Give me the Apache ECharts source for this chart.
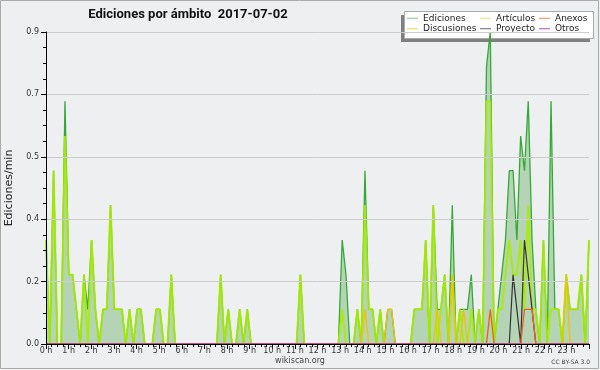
<!DOCTYPE html>
<html><head><meta charset="utf-8">
<script src="https://cdn.jsdelivr.net/npm/echarts@6/dist/echarts.min.js"></script>
<style>html,body{margin:0;padding:0;background:#eeeff1}#c{width:600px;height:370px}</style>
</head><body><div id="c"></div>
<script>
// 10-minute bins, 2017-07-02 (6 values per hour, 0 h .. 23 h)
const ediciones = [
 0.3,0,0.5,0,0,0.7,  0.2,0.2,0.1,0,0.2,0.1,  0.3,0.1,0,0.1,0.1,0.4,  0.1,0.1,0.1,0,0.1,0,
 0.1,0.1,0,0,0,0.1,  0.1,0,0,0.2,0,0,  0,0,0,0,0,0,  0,0,0,0,0.2,0,
 0.1,0,0,0.1,0,0.1,  0,0,0,0,0,0,  0,0,0,0,0,0,  0,0.2,0,0,0,0,
 0,0,0,0,0,0,  0.3,0.2,0,0,0.1,0,  0.5,0.1,0.1,0,0.1,0,  0.1,0.1,0,0,0,0,
 0,0.1,0.1,0.1,0.3,0,  0.4,0.1,0.1,0.2,0,0.4,  0,0.1,0.1,0.1,0.2,0,  0.1,0,0.8,0.9,0,0.1,
 0.2,0.3,0.5,0.5,0.3,0.6,  0.5,0.7,0.3,0.1,0,0.3,  0,0.7,0.1,0.1,0,0.2,  0.1,0.1,0.1,0.2,0,0.3
];
const articulos = [
 0.3,0,0.5,0,0,0.6,  0.2,0.2,0.1,0,0.2,0,  0.3,0.1,0,0.1,0.1,0.4,  0.1,0.1,0.1,0,0.1,0,
 0.1,0.1,0,0,0,0.1,  0.1,0,0,0.2,0,0,  0,0,0,0,0,0,  0,0,0,0,0.2,0,
 0.1,0,0,0.1,0,0.1,  0,0,0,0,0,0,  0,0,0,0,0,0,  0,0.2,0,0,0,0,
 0,0,0,0,0,0,  0.1,0,0,0,0.1,0,  0.4,0.1,0.1,0,0.1,0,  0,0,0,0,0,0,
 0,0.1,0.1,0.1,0.3,0,  0.4,0,0.1,0.2,0,0.2,  0,0.1,0,0,0.1,0,  0.1,0,0.7,0.7,0,0.1,
 0.1,0.2,0.3,0.2,0.2,0.3,  0.1,0.4,0.1,0.1,0,0.3,  0,0.1,0.1,0.1,0,0.2,  0.1,0.1,0.1,0.2,0,0.3
];
const discusiones = [
 0,0,0,0,0,0,  0,0,0,0,0,0,  0,0,0,0,0,0,  0,0,0,0,0,0,
 0,0,0,0,0,0,  0,0,0,0,0,0,  0,0,0,0,0,0,  0,0,0,0,0,0,
 0,0,0,0,0,0,  0,0,0,0,0,0,  0,0,0,0,0,0,  0,0,0,0,0,0,
 0,0,0,0,0,0,  0,0,0,0,0,0,  0.1,0,0,0,0,0,  0.1,0.1,0,0,0,0,
 0,0,0,0,0,0,  0,0.1,0,0,0,0.2,  0,0,0.1,0,0,0,  0,0,0,0,0,0,
 0,0,0,0,0,0,  0,0,0,0,0,0,  0,0,0,0,0,0.2,  0,0,0,0,0,0
];
const proyecto = [
 0,0,0,0,0,0,  0,0,0,0,0,0,  0,0,0,0,0,0,  0,0,0,0,0,0,
 0,0,0,0,0,0,  0,0,0,0,0,0,  0,0,0,0,0,0,  0,0,0,0,0,0,
 0,0,0,0,0,0,  0,0,0,0,0,0,  0,0,0,0,0,0,  0,0,0,0,0,0,
 0,0,0,0,0,0,  0,0,0,0,0,0,  0,0,0,0,0,0,  0,0,0,0,0,0,
 0,0,0,0,0,0,  0,0,0,0,0,0,  0,0,0,0,0,0,  0,0,0,0,0,0,
 0,0,0,0.2,0.1,0,  0.3,0.2,0.1,0,0,0,  0,0,0,0,0,0,  0,0,0,0,0,0
];
const anexos = [
 0,0,0,0,0,0,  0,0,0,0,0,0,  0,0,0,0,0,0,  0,0,0,0,0,0,
 0,0,0,0,0,0,  0,0,0,0,0,0,  0,0,0,0,0,0,  0,0,0,0,0,0,
 0,0,0,0,0,0,  0,0,0,0,0,0,  0,0,0,0,0,0,  0,0,0,0,0,0,
 0,0,0,0,0,0,  0,0,0,0,0,0,  0,0,0,0,0,0,  0,0,0,0,0,0,
 0,0,0,0,0,0,  0,0,0,0,0,0,  0,0,0,0,0,0,  0,0,0,0.1,0,0,
 0,0,0,0,0,0,  0.1,0.1,0.1,0,0,0,  0,0,0,0,0,0,  0,0,0,0,0,0
];
const otros = [
 0,0,0,0,0,0,  0,0,0,0,0,0,  0,0,0,0,0,0,  0,0,0,0,0,0,
 0,0,0,0,0,0,  0,0,0,0,0,0,  0,0,0,0,0,0,  0,0,0,0,0,0,
 0,0,0,0,0,0,  0,0,0,0,0,0,  0,0,0,0,0,0,  0,0,0,0,0,0,
 0,0,0,0,0,0,  0,0,0,0,0,0,  0,0,0,0,0,0,  0,0,0,0,0,0,
 0,0,0,0,0,0,  0,0,0,0,0,0,  0,0,0,0,0,0,  0,0,0,0,0,0,
 0,0,0,0,0,0,  0,0,0,0,0,0,  0,0,0,0,0,0,  0,0,0,0,0,0
];
const seriesNames = ['Ediciones','Discusiones','Artículos','Proyecto','Anexos','Otros'];
const hourLabelSuffix = ' h';
const titleText = 'Ediciones por ámbito  2017-07-02';
const yName = 'Ediciones/min';

const minutes = ediciones.map((_, i) => i * 10);
const pts = vals => vals.map((v, i) => [minutes[i], v]);
const FONT = 'DejaVu Sans';

const chart = echarts.init(document.getElementById('c'), null, {renderer: 'canvas'});

function line(name, vals, color, width, z, extra) {
  return Object.assign({
    name, type: 'line', xAxisIndex: 1, data: pts(vals), symbol: 'none', showSymbol: false,
    lineStyle: {color, width}, itemStyle: {color}, z, silent: true
  }, extra || {});
}

const legendBase = {
  orient: 'vertical', top: 13, itemGap: 0, itemWidth: 11, itemHeight: 1, icon: 'rect', padding: 0,
  selectedMode: false, textStyle: {fontFamily: FONT, fontSize: 9, color: '#222', lineHeight: 10.5}
};

chart.setOption({
  animation: false,
  backgroundColor: '#eeeff1',
  grid: {left: 46, right: 11, top: 32, bottom: 26},
  xAxis: [
    {type: 'value', min: 0, max: 24, interval: 1, z: 10,
     axisLine: {lineStyle: {color: '#000', width: 1}},
     axisTick: {length: 5, lineStyle: {color: '#000'}},
     minorTick: {show: true, splitNumber: 4, length: 3, lineStyle: {color: '#000'}},
     splitLine: {show: false},
     axisLabel: {formatter: v => v === 24 ? '' : v + hourLabelSuffix, fontFamily: FONT, fontSize: 8, color: '#333', margin: 3}},
    {type: 'value', min: 0, max: 1430, show: false}
  ],
  yAxis: {
    type: 'value', min: 0, max: 0.9, interval: 0.18, z: 10,
    axisLine: {show: true, lineStyle: {color: '#000', width: 1}},
    axisTick: {show: true, length: 5, lineStyle: {color: '#000'}},
    minorTick: {show: true, splitNumber: 4, length: 3, lineStyle: {color: '#000'}},
    splitLine: {lineStyle: {color: '#cdcdcd'}},
    axisLabel: {formatter: v => v.toFixed(1), fontFamily: FONT, fontSize: 8, color: '#333', margin: 7}
  },
  legend: [
    Object.assign({}, legendBase, {left: 407, data: [
      {name: 'Ediciones', itemStyle: {color: '#80cc80'}},
      {name: 'Discusiones', itemStyle: {color: '#f8d040'}}]}),
    Object.assign({}, legendBase, {left: 480, data: [
      {name: 'Artículos', itemStyle: {color: '#d4f06a'}},
      {name: 'Proyecto', itemStyle: {color: '#666666'}}]}),
    Object.assign({}, legendBase, {left: 539, data: [
      {name: 'Anexos', itemStyle: {color: '#f4804a'}},
      {name: 'Otros', itemStyle: {color: '#9a4ee8'}}]})
  ],
  series: [
    line(seriesNames[0], ediciones, '#35a935', 1.3, 2, {areaStyle: {color: 'rgba(58,155,54,0.45)', origin: 'start'}}),
    line(seriesNames[2], articulos, 'rgba(168,236,0,0.9)', 2, 3),
    line(seriesNames[1], discusiones, '#f2c200', 1.3, 4),
    line(seriesNames[3], proyecto, '#333333', 1.2, 5),
    line(seriesNames[4], anexos, '#f0601a', 1.3, 6),
    line(seriesNames[5], otros, '#9933ee', 1.2, 7)
  ],
  graphic: [
    {type: 'rect', silent: true, z: 0, shape: {x: 0.5, y: 0.5, width: 598, height: 368}, style: {fill: 'none', stroke: '#aaaaaa', lineWidth: 1}},
    {type: 'text', silent: true, x: 188, y: 15, style: {text: titleText, font: 'bold 13px Roboto', fill: '#111', textAlign: 'center', textVerticalAlign: 'middle'}},
    {type: 'text', silent: true, x: 9.5, y: 188, rotation: Math.PI / 2, style: {text: yName, font: '11px ' + FONT, fill: '#222', textAlign: 'center', textVerticalAlign: 'middle'}},
    {type: 'text', silent: true, x: 300, y: 361, style: {text: 'wikiscan.org', font: '8px ' + FONT, fill: '#444', textAlign: 'center', textVerticalAlign: 'middle'}},
    {type: 'text', silent: true, x: 590, y: 362, style: {text: 'CC BY-SA 3.0', font: '6px ' + FONT, fill: '#444', textAlign: 'right', textVerticalAlign: 'middle'}},
    {type: 'rect', silent: true, z: 1, shape: {x: 401, y: 15, width: 189, height: 27}, style: {fill: '#808080'}},
    {type: 'rect', silent: true, z: 2, shape: {x: 404.5, y: 11.5, width: 189, height: 27}, style: {fill: '#ffffff', stroke: '#aaaaaa', lineWidth: 1}}
  ]
});
</script></body></html>
